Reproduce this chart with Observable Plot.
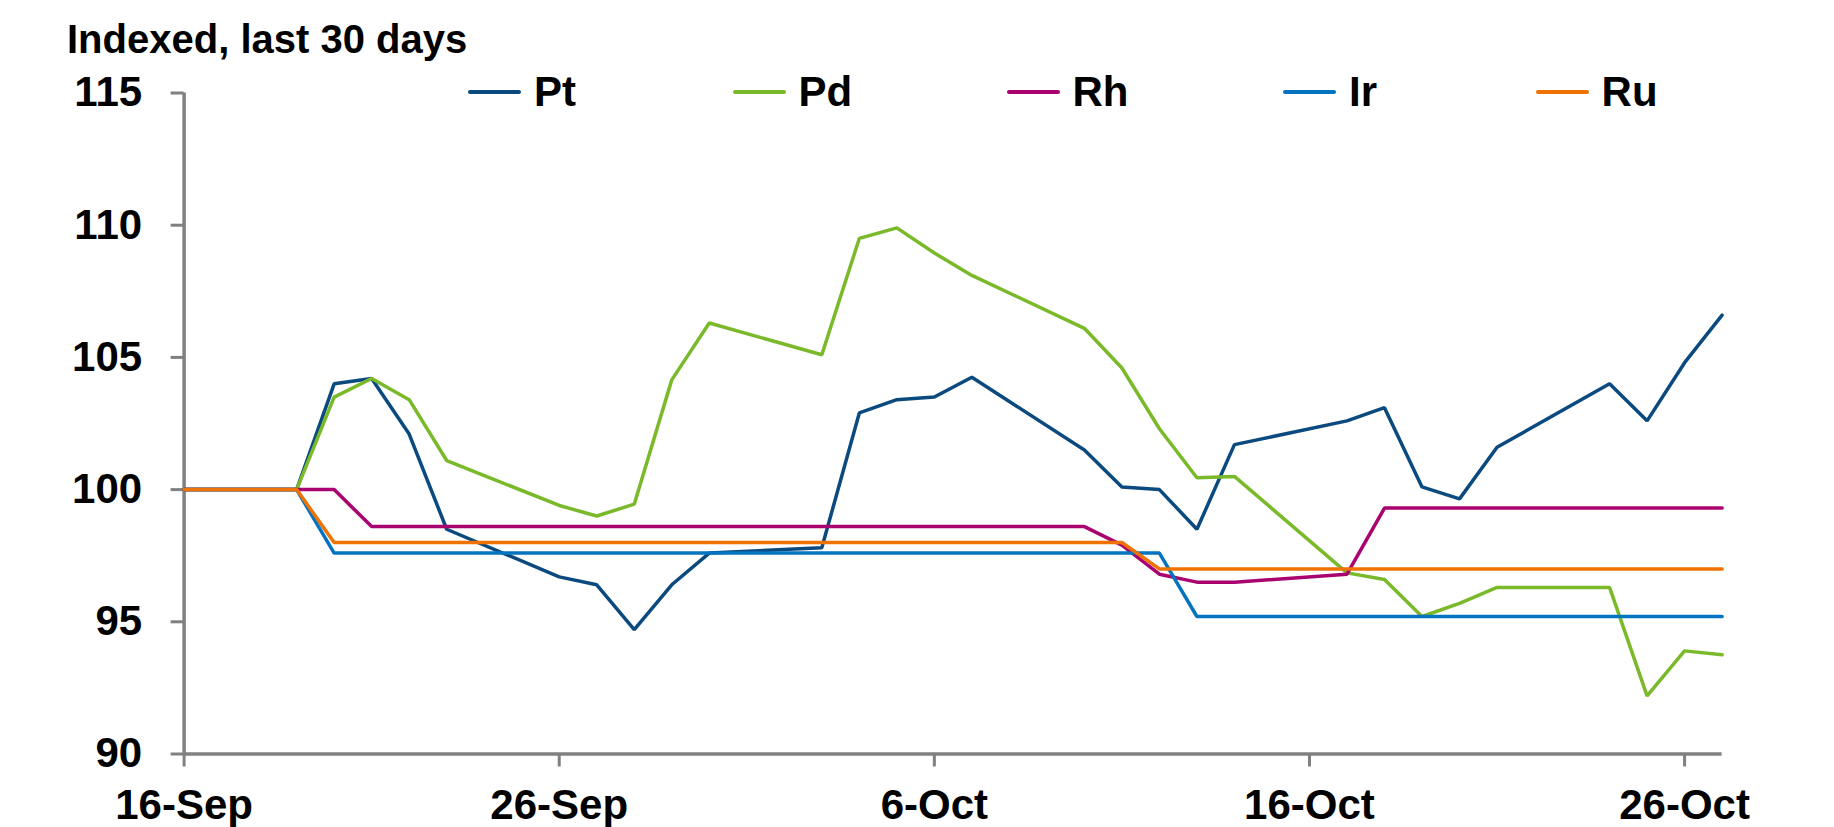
<!DOCTYPE html>
<html>
<head>
<meta charset="utf-8">
<script src="https://cdn.jsdelivr.net/npm/d3@7"></script>
<script src="https://cdn.jsdelivr.net/npm/@observablehq/plot@0.6"></script>
<style>
  body { margin: 0; background: #fff; }
  #wrap { position: relative; width: 1834px; height: 827px; font-family: "Liberation Sans", Arial, sans-serif; color: #000; }
  #title { position: absolute; left: 67px; top: 19px; font-size: 40px; font-weight: 700; line-height: 1; white-space: nowrap; }
  .leg { position: absolute; top: 71px; height: 42px; display: flex; align-items: center; font-size: 42px; font-weight: 700; line-height: 42px; white-space: nowrap; }
  .leg .sw { display: inline-block; width: 53px; height: 4px; border-radius: 2px; margin-right: 13px; }
  #chart { position: absolute; left: 0; top: 0; }
</style>
</head>
<body>
<div id="wrap">
  <div id="chart"></div>
  <div id="title">Indexed, last 30 days</div>
  <div id="legend"></div>
</div>
<script>
const dates = ["2022-09-16","2022-09-19","2022-09-20","2022-09-21","2022-09-22","2022-09-23",
  "2022-09-26","2022-09-27","2022-09-28","2022-09-29","2022-09-30",
  "2022-10-03","2022-10-04","2022-10-05","2022-10-06","2022-10-07",
  "2022-10-10","2022-10-11","2022-10-12","2022-10-13","2022-10-14",
  "2022-10-17","2022-10-18","2022-10-19","2022-10-20","2022-10-21",
  "2022-10-24","2022-10-25","2022-10-26","2022-10-27"];
const pt = [100,100,104.0,104.2,102.1,98.5,96.7,96.4,94.7,96.4,97.6,97.8,102.9,103.4,103.5,104.25,101.5,100.1,100.0,98.5,101.7,102.6,103.1,100.1,99.65,101.6,104.0,102.6,104.8,106.6];
const pd = [100,100,103.5,104.2,103.4,101.1,99.4,99.0,99.45,104.15,106.3,105.1,109.5,109.9,108.95,108.1,106.1,104.6,102.3,100.45,100.5,96.85,96.6,95.2,95.7,96.3,96.3,92.2,93.9,93.75];
const rh = [100,100,100,98.6,98.6,98.6,98.6,98.6,98.6,98.6,98.6,98.6,98.6,98.6,98.6,98.6,98.6,97.9,96.8,96.5,96.5,96.8,99.3,99.3,99.3,99.3,99.3,99.3,99.3,99.3];
const ir = [100,100,97.6,97.6,97.6,97.6,97.6,97.6,97.6,97.6,97.6,97.6,97.6,97.6,97.6,97.6,97.6,97.6,97.6,95.2,95.2,95.2,95.2,95.2,95.2,95.2,95.2,95.2,95.2,95.2];
const ru = [100,100,98.0,98.0,98.0,98.0,98.0,98.0,98.0,98.0,98.0,98.0,98.0,98.0,98.0,98.0,98.0,98.0,97.0,97.0,97.0,97.0,97.0,97.0,97.0,97.0,97.0,97.0,97.0,97.0];

const seriesNames = ["Pt","Pd","Rh","Ir","Ru"];
const seriesColors = ["#0b4a7e","#7ab929","#a9036f","#0473c0","#ef7203"];
const yTicks = [90,95,100,105,110,115];
const xTickDates = ["2022-09-16","2022-09-26","2022-10-06","2022-10-16","2022-10-26"];

const valuesBySeries = [pt, pd, rh, ir, ru];
const rows = [];
seriesNames.forEach((s, i) => {
  valuesBySeries[i].forEach((v, j) => rows.push({date: new Date(dates[j]), value: v, series: s}));
});

const axisGray = "#808080";
const fmt = d3.utcFormat("%-d-%b");
const xStart = new Date(dates[0]);
const xEnd = new Date(dates[dates.length - 1]);

const chart = Plot.plot({
  width: 1834,
  height: 827,
  marginLeft: 183.6,
  marginRight: 112.4,
  marginTop: 92.5,
  marginBottom: 73.5,
  style: { fontFamily: '"Liberation Sans", Arial, sans-serif', fontSize: "42px", fontWeight: 700, color: "#000", background: "transparent", overflow: "visible" },
  x: { type: "utc", domain: [xStart, xEnd], label: null },
  y: { domain: [90, 115], label: null },
  color: { domain: seriesNames, range: seriesColors },
  marks: [
    Plot.axisY({ ticks: yTicks, tickSize: 13, tickPadding: 29, stroke: axisGray, strokeWidth: 3, fill: "#000", label: null, tickFormat: d => String(d) }),
    Plot.axisX({ ticks: xTickDates.map(d => new Date(d)), tickSize: 13, tickPadding: 22, stroke: axisGray, strokeWidth: 3, fill: "#000", label: null, tickFormat: fmt }),
    Plot.ruleX([xStart], { y1: 90, y2: 115, stroke: axisGray, strokeWidth: 3.5 }),
    Plot.ruleY([90], { stroke: axisGray, strokeWidth: 3.5 }),
    Plot.line(rows, { x: "date", y: "value", z: "series", stroke: "series", strokeWidth: 3.5, strokeLinejoin: "miter", strokeLinecap: "round" })
  ]
});
document.getElementById("chart").appendChild(chart);

const legendLefts = [468, 732.5, 1006.5, 1283, 1535.6];
const legend = document.getElementById("legend");
seriesNames.forEach((s, i) => {
  const item = document.createElement("div");
  item.className = "leg";
  item.style.left = legendLefts[i] + "px";
  const sw = document.createElement("span");
  sw.className = "sw";
  sw.style.background = seriesColors[i];
  item.appendChild(sw);
  item.appendChild(document.createTextNode(s));
  legend.appendChild(item);
});
</script>
</body>
</html>
